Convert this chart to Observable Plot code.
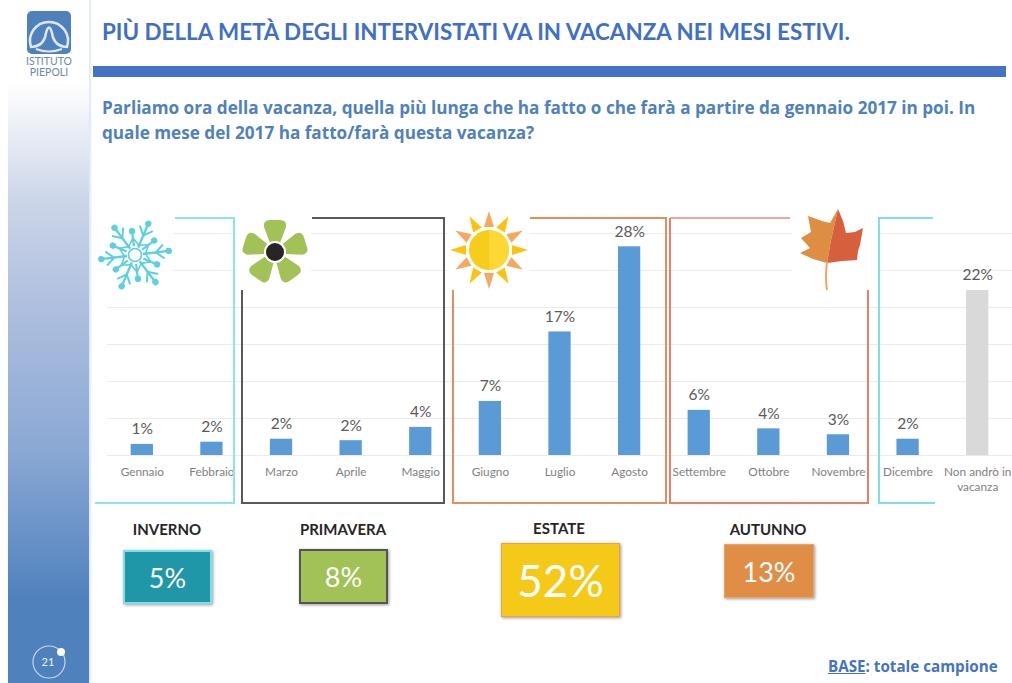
<!DOCTYPE html>
<html lang="it"><head><meta charset="utf-8">
<script src="https://cdn.jsdelivr.net/npm/d3@7"></script>
<script src="https://cdn.jsdelivr.net/npm/@observablehq/plot@0.6"></script>
<style>
html,body{margin:0;padding:0;background:#fff;width:1012px;height:683px;overflow:hidden;font-family:Lato,"Open Sans",sans-serif}
#page{position:relative;width:1012px;height:683px;overflow:hidden}
#side{position:absolute;left:8px;top:0;width:81px;height:683px;background:linear-gradient(180deg,#fff 0,#fff 12%,#cdd6e9 29%,#b0c0df 44%,#8aa8d4 66%,#4f81bd 88%,#4f81bd 100%);box-shadow:2px 0 2px #dfe8f4}
#bar{position:absolute;left:93px;top:66px;width:913px;height:11px;background:#4472c4}
#title{position:absolute;left:102px;top:18px;font-size:22.4px;font-weight:700;color:#3f6fc6;white-space:nowrap}
#sub{position:absolute;left:102px;top:95px;font-family:"Open Sans",sans-serif;font-size:17.15px;line-height:25px;font-weight:700;color:#4f81bd;white-space:nowrap}
#base{position:absolute;left:828px;top:656px;font-family:"Open Sans",sans-serif;font-size:15.2px;font-weight:700;color:#4472c4;white-space:nowrap}
#base u{text-decoration:underline}
#chart,#deco{position:absolute;left:0;top:0}
.sl{position:absolute;font-size:15px;font-weight:700;color:#262626;transform:translateX(-50%);white-space:nowrap}
.sb{position:absolute;box-sizing:border-box;color:#fff;display:flex;align-items:center;justify-content:center;box-shadow:1px 1px 3px #999}
</style></head><body><div id="page">
<div id="side"></div>
<div id="bar"></div>
<div id="title">PIÙ DELLA METÀ DEGLI INTERVISTATI VA IN VACANZA NEI MESI ESTIVI.</div>
<div id="sub">Parliamo ora della vacanza, quella più lunga che ha fatto o che farà a partire da gennaio 2017 in poi. In<br>quale mese del 2017 ha fatto/farà questa vacanza?</div>
<div id="chart"></div>
<svg id="deco" width="1012" height="683" xmlns="http://www.w3.org/2000/svg"></svg>
<div id="base"><u>BASE</u>: totale campione</div>
</div>
<script>
const months = ["Gennaio","Febbraio","Marzo","Aprile","Maggio","Giugno","Luglio","Agosto","Settembre","Ottobre","Novembre","Dicembre","Non andrò in\nvacanza"];
const barValues = [1.5,1.8,2.2,2.0,3.8,7.3,16.7,28.2,6.1,3.6,2.8,2.2,22.3];
const barLabels = ["1%","2%","2%","2%","4%","7%","17%","28%","6%","4%","3%","2%","22%"];
const gridValues = [0,5,10,15,20,25,30];
const seasons = ["INVERNO","PRIMAVERA","ESTATE","AUTUNNO"];
const seasonValues = ["5%","8%","52%","13%"];
const rows = months.map((m,i)=>({month:m,value:barValues[i],label:barLabels[i],none:i===months.length-1}));

const chart = Plot.plot({
  width:1012,height:683,marginLeft:107,marginRight:0,marginTop:233,marginBottom:228,
  style:{background:"transparent",fontFamily:"Lato,sans-serif"},
  x:{domain:months,paddingInner:0.68,paddingOuter:0.34,round:false,label:null},
  y:{domain:[0,30],axis:null,label:null},
  marks:[
    Plot.ruleY(gridValues,{stroke:"#ebebeb",strokeWidth:1}),
    Plot.barY(rows,{x:"month",y:"value",fill:d=>d.none?"#d9d9d9":"#5b9bd5"}),
    Plot.text(rows,{x:"month",y:"value",text:"label",dy:-15,fontSize:15.5,fill:"#595959"}),
    Plot.axisX({tickSize:0,tickPadding:10,fontSize:11.8,color:"#7f7f7f",label:null,lineHeight:1.25,anchor:"bottom"})
  ]
});
document.getElementById("chart").appendChild(chart);

const page=document.getElementById("page");
const sl=[[167,520],[343,520],[559,519],[768,520]];
const sb=[[123,550,89,54,"#2097a8","2px solid #7fdfe8",27],[299,549,89,55,"#a2c257","2px solid #555",27],[501,543,119,74,"#f4c918","1.5px solid #f0a040",44],[724,544,90,54,"#e08e45","1.5px solid #e9a468",27]];
seasons.forEach((s,i)=>{
  const l=document.createElement("div");l.className="sl";l.textContent=s;l.style.left=sl[i][0]+"px";l.style.top=sl[i][1]+"px";page.appendChild(l);
  const b=document.createElement("div");b.className="sb";const q=sb[i];
  b.textContent=seasonValues[i];
  b.style.cssText=`left:${q[0]}px;top:${q[1]}px;width:${q[2]}px;height:${q[3]}px;background:${q[4]};border:${q[5]};font-size:${q[6]}px`;
  page.appendChild(b);
});

const d=d3.select("#deco");
// white patches behind the icons break the gridlines
[[92,214,82,78],[236,214,75,76],[447,210,82,82],[792,205,86,88]].forEach(r=>d.append("rect").attr("x",r[0]).attr("y",r[1]).attr("width",r[2]).attr("height",r[3]).attr("fill","#fff"));
// season frames
const frame=(p,c,w=2)=>d.append("path").attr("d",p).attr("fill","none").attr("stroke",c).attr("stroke-width",w);
frame("M175 218H234V503H95","#8fe3ec");
frame("M242 290V503H444V218H312","#595959");
frame("M530 218H666V503H453V290","#e0905f");
frame("M790 218H670","#efa99a");
frame("M670 218V503H868V290","#e2806a");
frame("M933 218H879V503H935","#7fdfe8");

// snowflake
const sn=d.append("g").attr("transform","translate(135,255)").attr("stroke","#5dcfdf").attr("fill","#5dcfdf");
for(let k=0;k<6;k++){
  const g=sn.append("g").attr("transform",`rotate(${23+60*k})`);
  g.append("line").attr("y1",-8).attr("y2",-34).attr("stroke-width",2.4);
  g.append("circle").attr("cy",-34).attr("r",3.2).attr("stroke","none");
  g.append("line").attr("y1",-21).attr("x2",-7).attr("y2",-29).attr("stroke-width",2);
  g.append("line").attr("y1",-21).attr("x2",7).attr("y2",-29).attr("stroke-width",2);
  const h=sn.append("g").attr("transform",`rotate(${-7+60*k})`);
  h.append("line").attr("y1",-9).attr("y2",-24).attr("stroke-width",2.2);
  h.append("circle").attr("cy",-24).attr("r",3.2).attr("stroke","none");
  h.append("line").attr("x1",-6).attr("y1",-8).attr("x2",0).attr("y2",-17).attr("stroke-width",1.6);
  h.append("line").attr("x1",6).attr("y1",-8).attr("x2",0).attr("y2",-17).attr("stroke-width",1.6);
}
sn.append("circle").attr("r",6.5).attr("fill","#fff").attr("stroke-width",1.6);
// flower
const fl=d.append("g").attr("transform","translate(275,252)");
for(let a=0;a<360;a+=72){
  fl.append("path").attr("transform",`rotate(${a})`).attr("fill","#a2c257").attr("d","M-5 -9 L-11 -25 Q-12 -32 -5 -32 L5 -32 Q12 -32 11 -25 L5 -9 Q0 -12 -5 -9 Z");
}
fl.append("circle").attr("r",11).attr("fill","#fff");
fl.append("circle").attr("r",9).attr("fill","#262626");
// sun
const su=d.append("g").attr("transform","translate(489,250)");
for(let a=0;a<360;a+=30){
  su.append("path").attr("transform",`rotate(${a})`).attr("d","M-5 -23 L0 -39 L5 -23 Z").attr("fill",a%60===0?"#f7a860":"#fbc30f");
}
su.append("circle").attr("r",20).attr("fill","#f5cd1a");
su.append("path").attr("d","M0 -20 A20 20 0 0 1 0 20 Z").attr("fill","#fdd835");
// leaf
d.append("path").attr("d","M838 209 L830 223 L822 221 L808 216 L811 232 L801 238 L810 248 L800 253 L813 259 L827 263 L831 240 Z").attr("fill","#de8e42");
d.append("path").attr("d","M838 209 L843 221 L846 233 L855 232 L863 228 L860 245 L858 251 L857 260 L842 261 L827 263 L831 240 Z").attr("fill","#d65f3e");
d.append("path").attr("d","M827 262 Q825 278 827 290").attr("stroke","#e8a868").attr("stroke-width",2).attr("fill","none");

// logo
const lg=d.append("g");
lg.append("rect").attr("x",27).attr("y",11).attr("width",44).attr("height",43).attr("rx",5).attr("fill","#4f81bd");
lg.append("path").attr("d","M31 47 A19 19 0 1 1 67 47").attr("fill","none").attr("stroke","#dfe8f2").attr("stroke-width",2.5);
lg.append("path").attr("d","M30 47 Q44 47 46 33 Q49 22 52 33 Q54 47 68 47").attr("fill","none").attr("stroke","#dfe8f2").attr("stroke-width",2.5);
lg.append("path").attr("d","M36 49 Q49 54 62 49").attr("fill","none").attr("stroke","#dfe8f2").attr("stroke-width",2);
lg.append("text").attr("x",49).attr("y",65).attr("text-anchor","middle").attr("font-size",10.5).attr("fill","#6f87a8").text("ISTITUTO");
lg.append("text").attr("x",49).attr("y",76).attr("text-anchor","middle").attr("font-size",10.5).attr("fill","#6f87a8").text("PIEPOLI");
// page number
const pn=d.append("g");
pn.append("circle").attr("cx",49).attr("cy",662).attr("r",16).attr("fill","none").attr("stroke","#c8d7ea").attr("stroke-width",1.2);
pn.append("circle").attr("cx",61).attr("cy",652).attr("r",4).attr("fill","#fff");
pn.append("text").attr("x",48).attr("y",666).attr("text-anchor","middle").attr("font-size",11).attr("fill","#eef3fa").text("21");
</script>
</body></html>
